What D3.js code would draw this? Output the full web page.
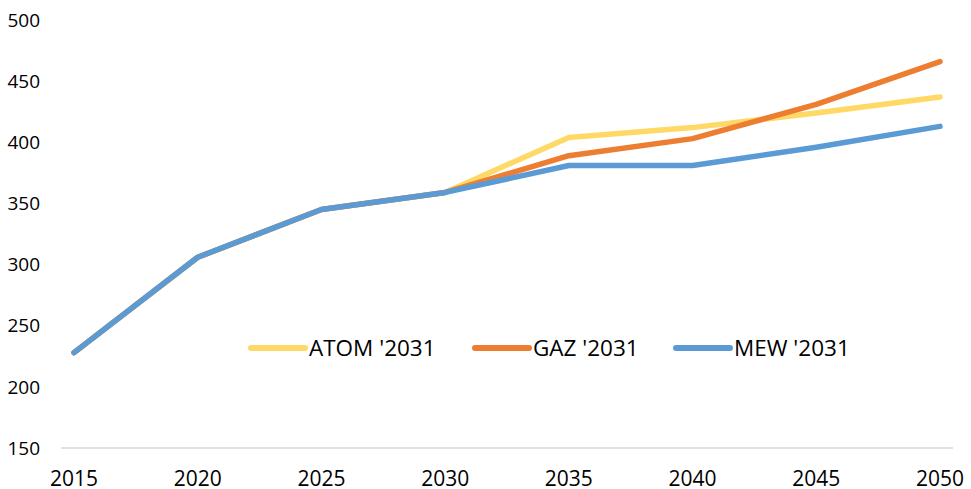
<!DOCTYPE html>
<html>
<head>
<meta charset="utf-8">
<style>
body { margin: 0; background: #ffffff; }
text { font-family: "Open Sans", sans-serif; fill: #000000; }
</style>
</head>
<body>
<script src="https://d3js.org/d3.v7.min.js"></script>
<script>
'use strict';
const years = ['2015', '2020', '2025', '2030', '2035', '2040', '2045', '2050'];
const atom = [228, 306, 345, 359, 404, 412, 424, 437];
const gaz  = [228, 306, 345, 359, 389, 403, 431, 466];
const mew  = [228, 306, 345, 359, 381, 381, 396, 413];
const yTicks = [150, 200, 250, 300, 350, 400, 450, 500];

const series = [
	{name: "ATOM '2031", values: atom, color: '#ffd966'},
	{name: "GAZ '2031", values: gaz, color: '#ed7d31'},
	{name: "MEW '2031", values: mew, color: '#5b9bd5'}
];

const width = 971, height = 489;

const x = d3.scalePoint().domain(years).range([74, 940]);
const y = d3.scaleLinear().domain([150, 500]).range([448, 20]);

const svg = d3.select('body').append('svg')
	.attr('width', width)
	.attr('height', height);

// baseline
svg.append('line')
	.attr('x1', 61).attr('x2', 953)
	.attr('y1', y(150)).attr('y2', y(150))
	.attr('stroke', '#d9d9d9')
	.attr('stroke-width', 1.5);

// y labels
svg.selectAll('.ylab')
	.data(yTicks)
	.enter().append('text')
	.attr('class', 'ylab')
	.attr('x', 40)
	.attr('y', d => y(d))
	.attr('dy', '0.35em')
	.attr('text-anchor', 'end')
	.style('font-size', '19px')
	.text(d => d);

// x labels
svg.selectAll('.xlab')
	.data(years)
	.enter().append('text')
	.attr('class', 'xlab')
	.attr('x', d => x(d))
	.attr('y', 486)
	.attr('text-anchor', 'middle')
	.style('font-size', '21px')
	.text(d => d);

const line = d3.line()
	.x((d, i) => x(years[i]))
	.y(d => y(d));

// draw lines, blue last so it's on top
svg.selectAll('.series')
	.data(series)
	.enter().append('path')
	.attr('class', 'series')
	.attr('d', d => line(d.values))
	.attr('fill', 'none')
	.attr('stroke', d => d.color)
	.attr('stroke-width', 5.5)
	.attr('stroke-linejoin', 'round')
	.attr('stroke-linecap', 'round');

// legend
const legX = [251, 475, 676];
const leg = svg.selectAll('.leg')
	.data(series)
	.enter().append('g')
	.attr('class', 'leg')
	.attr('transform', (d, i) => 'translate(' + legX[i] + ',348)');

leg.append('line')
	.attr('x1', 0).attr('x2', 54)
	.attr('stroke', d => d.color)
	.attr('stroke-width', 6)
	.attr('stroke-linecap', 'round');

leg.append('text')
	.attr('x', 58)
	.attr('dy', '0.35em')
	.style('font-size', '22.5px')
	.text(d => d.name);
</script>
</body>
</html>
